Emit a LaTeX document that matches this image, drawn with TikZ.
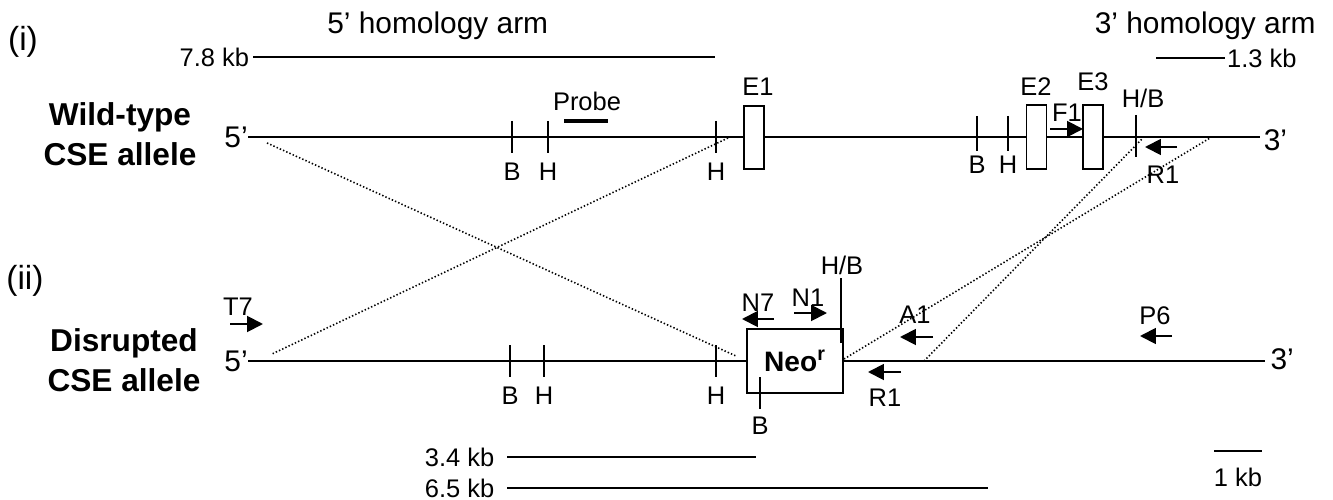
\documentclass[tikz,border=0pt]{standalone}
\usepackage{fontspec}
\setmainfont{Liberation Sans}
\usetikzlibrary{arrows.meta,positioning}

\begin{document}
\begin{tikzpicture}[x=0.02cm,y=-0.02cm,
    big/.style={font=\fontsize{17}{20}\selectfont,inner sep=0pt},
    lbl/.style={font=\fontsize{14.5}{17}\selectfont,inner sep=0pt},
    allele/.style={font=\fontsize{18}{22.7}\selectfont\bfseries,align=center,inner sep=0pt},
    exon/.style={draw,line width=1pt,fill=white,minimum width=0.4cm,minimum height=1.27cm,inner sep=0pt},
    dna/.style={line width=1.1pt},
    tk/.style={line width=1pt},
    primer/.style={-{Triangle[length=9pt,width=9pt]},line width=1.1pt},
    cross/.style={dash pattern=on 0.8pt off 1.2pt,line width=0.9pt},
    bar/.style={line width=1pt}
  ]
  \useasboundingbox (0,0) rectangle (1333,500);
  \node[big,font=\fontsize{19}{22}\selectfont] (i) at (23,42) {(i)};
  \node[big,font=\fontsize{19}{22}\selectfont] (ii) at (25,281) {(ii)};
  \node[big,anchor=base west] (arm5) at (327,34) {5’ homology arm};
  \node[big,anchor=base east] (arm3) at (1316,34) {3’ homology arm};
  \coordinate (kb78a) at (253,57);
  \coordinate (kb78b) at (715,57);
  \draw[bar] (kb78a) -- (kb78b);
  \node[lbl,left=2pt of kb78a] (kb78) {7.8 kb};
  \coordinate (kb13a) at (1156,58);
  \coordinate (kb13b) at (1225,58);
  \draw[bar] (kb13a) -- (kb13b);
  \node[lbl,right=1pt of kb13b] (kb13) {1.3 kb};

  % wild-type allele
  \node[allele] (wt) at (120,134) {Wild-type\\CSE allele};
  \coordinate (wtL) at (248,137);
  \coordinate (wtR) at (1260,137);
  \draw[dna] (wtL) -- (wtR);
  \node[big,left=0pt of wtL] (wt5) {5’};
  \node[big,right=2pt of wtR,yshift=-2pt] (wt3) {3’};
  \foreach \x/\t in {512/B,548/H,716/H} {
    \draw[tk] (\x,121) -- (\x,153);
    \node[lbl] (wt\x) at (\x,172) {\t};
  }
  \foreach \x/\t in {977/B,1008/H} {
    \draw[tk] (\x,116) -- (\x,151);
    \node[lbl] (wt\x) at (\x,165) {\t};
  }
  \draw[tk] (1136,115) -- (1136,157);
  \node[lbl] (wthb) at (1143,98) {H/B};
  \draw[line width=2.4pt] (564,121) -- (608,121);
  \node[lbl] (probe) at (587,101) {Probe};
  \node[exon] (e1) at (754,137.5) {};
  \node[exon] (e2) at (1036.5,137) {};
  \node[exon] (e3) at (1093,137) {};
  \node[lbl] (e1l) at (758,87) {E1};
  \node[lbl] (e2l) at (1036,87) {E2};
  \node[lbl] (e3l) at (1093,82) {E3};
  \draw[primer] (1050,129) -- (1083,129);
  \node[lbl] (f1) at (1067,113) {F1};
  \draw[primer] (1177,147) -- (1145,147);
  \node[lbl] (r1a) at (1163,175) {R1};

  % crossovers
  \coordinate (c1) at (267,143);
  \coordinate (c2) at (736,356);
  \coordinate (c3) at (728,138);
  \coordinate (c4) at (272,354);
  \coordinate (c5) at (844,359);
  \coordinate (c6) at (1210,138);
  \coordinate (c7) at (924,361);
  \coordinate (c8) at (1143,138);
  \draw[cross] (c1) -- (c2);
  \draw[cross] (c3) -- (c4);
  \draw[cross] (c5) -- (c6);
  \draw[cross] (c7) -- (c8);

  % disrupted allele
  \node[allele] (dis) at (124,360) {Disrupted\\CSE allele};
  \coordinate (dsL) at (248,361);
  \coordinate (dsR) at (1265,361);
  \draw[dna] (dsL) -- (dsR);
  \node[big,left=0pt of dsL] (ds5) {5’};
  \node[big,right=3pt of dsR,yshift=1pt] (ds3) {3’};
  \foreach \x/\t in {510/B,544/H,716/H} {
    \draw[tk] (\x,345) -- (\x,377);
    \node[lbl] (ds\x) at (\x,396) {\t};
  }
  \node[draw,line width=1pt,fill=white,minimum width=1.92cm,minimum height=1.28cm,
        font=\fontsize{16}{19}\selectfont\bfseries] (neo) at (795,361) {Neo\textsuperscript{r}};
  \draw[tk] (760,377) -- (760,409);
  \node[lbl] (dsb) at (760,426) {B};
  \draw[tk] (841,278) -- (841,343);
  \node[lbl] (dshb) at (842,265) {H/B};
  \draw[primer] (230,324) -- (263,324);
  \node[lbl] (t7) at (238,307) {T7};
  \draw[primer] (774,319) -- (742,319);
  \node[lbl] (n7) at (758,303) {N7};
  \draw[primer] (794,313) -- (827,313);
  \node[lbl] (n1) at (808,298) {N1};
  \draw[primer] (933,337) -- (900,337);
  \node[lbl] (a1) at (915,315) {A1};
  \draw[primer] (901,372) -- (868,372);
  \node[lbl] (r1b) at (885,398) {R1};
  \draw[primer] (1172,336) -- (1140,336);
  \node[lbl] (p6) at (1155,316) {P6};

  % fragments
  \coordinate (kb34a) at (507,457);
  \coordinate (kb34b) at (756,457);
  \draw[bar] (kb34a) -- (kb34b);
  \node[lbl,left=7pt of kb34a] (kb34) {3.4 kb};
  \coordinate (kb65a) at (507,488);
  \coordinate (kb65b) at (988,488);
  \draw[bar] (kb65a) -- (kb65b);
  \node[lbl,left=7pt of kb65a] (kb65) {6.5 kb};
  \coordinate (kb1a) at (1214,451);
  \coordinate (kb1b) at (1262,451);
  \draw[line width=1.5pt] (kb1a) -- (kb1b);
  \node[lbl] (kb1) at (1238,477) {1 kb};
\end{tikzpicture}
\end{document}
